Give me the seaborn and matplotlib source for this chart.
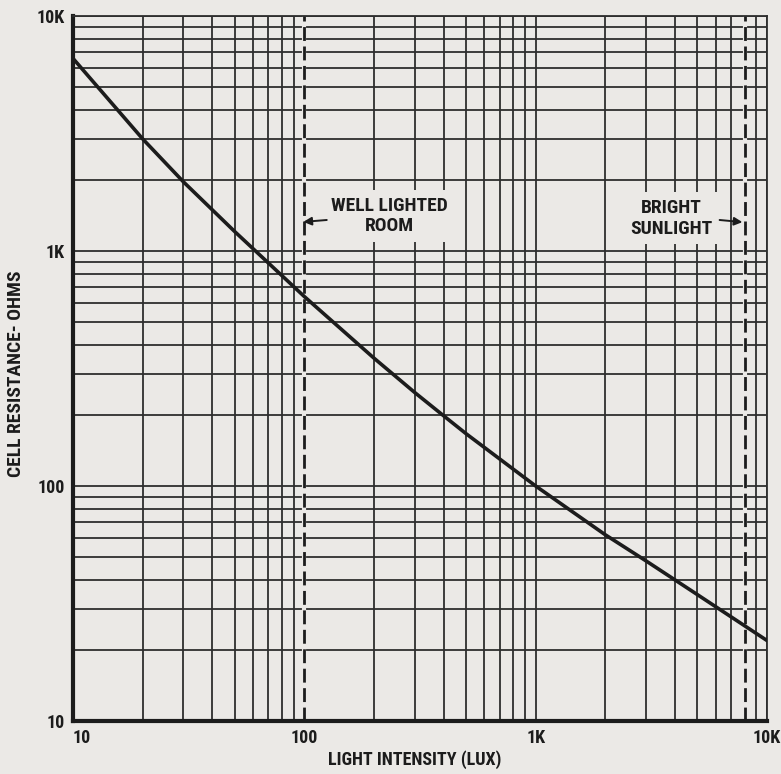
import matplotlib
matplotlib.use("Agg")
import matplotlib.pyplot as plt
from matplotlib import font_manager
from matplotlib.ticker import LogLocator, NullFormatter, FixedLocator
import pandas as pd
import seaborn as sns

# Photocell response: resistance versus illumination
lux = [10, 20, 30, 50, 100, 200, 300, 400, 500, 1000, 2000, 3000, 5000, 10000]
ohms = [6600, 3000, 1970, 1210, 640, 350, 250, 199, 167, 100, 62, 48, 34.5, 22]

x_ticks = [10, 100, 1000, 10000]
x_tick_labels = ["10", "100", "1K", "10K"]
y_ticks = [10, 100, 1000, 10000]
y_tick_labels = ["10", "100", "1K", "10K"]

markers_lux = [100, 8000]
room_label = "WELL LIGHTED\nROOM"
sun_label = "BRIGHT\nSUNLIGHT"

PAPER = "#ebe9e6"
INK = "#1c1c1c"
GRID = "#2e2e2e"

sns.set_theme(style="white")

available = {f.name for f in font_manager.fontManager.ttflist}
family = next((f for f in ["Liberation Sans Narrow", "Roboto Condensed",
                           "Liberation Sans", "DejaVu Sans"] if f in available),
              "DejaVu Sans")
plt.rcParams["font.family"] = [family, "DejaVu Sans"]

fig = plt.figure(figsize=(7.81, 7.74), dpi=100, facecolor=PAPER)
ax = fig.add_axes([73 / 781, 1 - 721 / 774, (767 - 73) / 781, (721 - 16) / 774])
ax.set_facecolor(PAPER)
ax.set_xscale("log")
ax.set_yscale("log")
ax.set_xlim(10, 10000)
ax.set_ylim(10, 10000)

# log-paper grid
ax.xaxis.set_minor_locator(LogLocator(base=10, subs=range(2, 10)))
ax.yaxis.set_minor_locator(LogLocator(base=10, subs=range(2, 10)))
ax.xaxis.set_minor_formatter(NullFormatter())
ax.yaxis.set_minor_formatter(NullFormatter())
ax.grid(True, which="both", color=GRID, lw=1.3)
ax.set_axisbelow(True)

for side in ["top", "right"]:
    ax.spines[side].set_color(GRID)
    ax.spines[side].set_linewidth(1.3)
for side in ["left", "bottom"]:
    ax.spines[side].set_color(INK)
    ax.spines[side].set_linewidth(3)

# dashed reference lines
for xv in markers_lux:
    ax.axvline(xv, color=PAPER, lw=3, zorder=2)
    ax.axvline(xv, color=INK, lw=2, ls=(0, (5, 2)), zorder=3)

df = pd.DataFrame({"lux": lux, "ohms": ohms})
sns.lineplot(data=df, x="lux", y="ohms", ax=ax, color=INK, lw=2.6, zorder=4)

ax.xaxis.set_major_locator(FixedLocator(x_ticks))
ax.yaxis.set_major_locator(FixedLocator(y_ticks))
ax.set_xticklabels(x_tick_labels)
ax.set_yticklabels(y_tick_labels)
ax.tick_params(which="both", length=0, labelsize=13, colors=INK, pad=6)
for lab in ax.get_xticklabels() + ax.get_yticklabels():
    lab.set_fontweight("bold")
ax.get_xticklabels()[0].set_ha("left")

ax.set_xlabel("LIGHT INTENSITY (LUX)", fontsize=13, fontweight="bold", color=INK)
ax.set_ylabel("CELL RESISTANCE- OHMS", fontsize=14, fontweight="bold", color=INK)
ax.xaxis.set_label_coords((415 - 73) / 694, -(760 - 721) / 705)
ax.yaxis.set_label_coords(-(73 - 16) / 694, (721 - 374) / 705)
ax.xaxis.label.set_va("center")
ax.yaxis.label.set_va("center")

box = dict(boxstyle="square,pad=0.35", fc=PAPER, ec="none")
ax.text(234, 1410, room_label, ha="center", va="center", fontsize=14,
        fontweight="bold", color=INK, linespacing=1.2, bbox=box, zorder=5)
ax.text(3860, 1380, sun_label, ha="center", va="center", fontsize=14,
        fontweight="bold", color=INK, linespacing=1.2, bbox=box, zorder=5)

arrow = dict(arrowstyle="-|>", color=INK, lw=1.4, mutation_scale=12,
             shrinkA=0, shrinkB=0)
ax.annotate("", xy=(99, 1330), xytext=(125, 1355), arrowprops=arrow, zorder=6)
ax.annotate("", xy=(7830, 1327), xytext=(6240, 1355), arrowprops=arrow, zorder=6)

fig.savefig("out.png", dpi=100, facecolor=PAPER)
